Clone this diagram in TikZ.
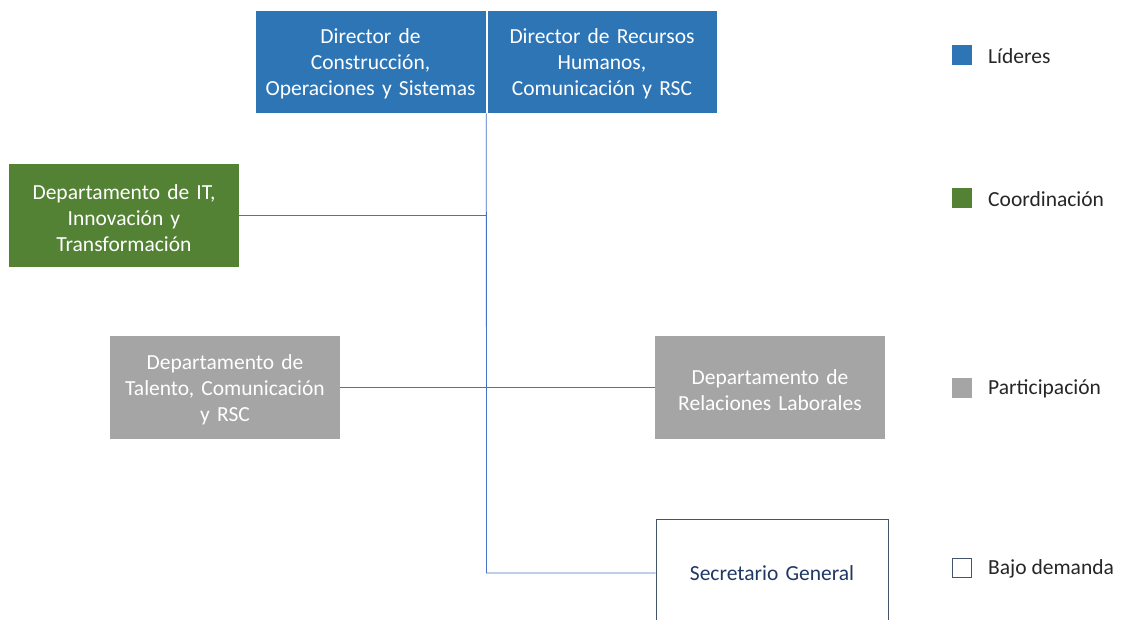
\documentclass[tikz,border=0pt]{standalone}
\usepackage{fontspec}
\setmainfont{Carlito}
\definecolor{lead}{HTML}{2E75B6}
\definecolor{coord}{HTML}{548235}
\definecolor{part}{HTML}{A5A5A5}
\definecolor{conn}{HTML}{4472C4}
\definecolor{navy}{HTML}{203864}
\definecolor{secborder}{HTML}{44546A}
\begin{document}
\begin{tikzpicture}[x=1pt,y=-1pt,
  box/.style={rectangle, inner sep=2pt, align=center, text width=#1, font=\fontsize{21.5}{26}\selectfont, execute at begin node={\rule{0pt}{20pt}}},
  lbox/.style={box=224pt, fill=lead, draw=white, line width=0.6pt, text=white, minimum width=231pt, minimum height=103pt},
  cbox/.style={box=224pt, fill=coord, text=white, minimum width=230pt, minimum height=103pt},
  pbox/.style={box=224pt, fill=part, text=white, minimum width=230pt, minimum height=103pt},
  sbox/.style={box=224pt, fill=white, draw=secborder, line width=1pt, text=navy, minimum width=232pt, minimum height=104pt},
  link/.style={draw=conn, line width=0.8pt},
  legsq/.style={rectangle, minimum size=20pt, inner sep=0pt},
  legtx/.style={anchor=west, inner sep=0pt, font=\fontsize{21.5}{26}\selectfont, text=black!85}
]
\useasboundingbox (0,0) rectangle (1121,619);
\fill[white] (0,0) rectangle (1121,619);

\node[lbox] (d1) at (370.5,61.5) {Director de\\Construcción,\\Operaciones y Sistemas};
\node[lbox, minimum width=230pt] (d2) at (602,61.5) {Director de Recursos\\Humanos,\\Comunicación y RSC};
\node[cbox] (it) at (124,215.5) {Departamento de IT,\\Innovación y\\Transformación};
\node[pbox] (tal) at (225,387.5) {Departamento de\\Talento, Comunicación\\y RSC};
\node[pbox] (rel) at (770,387.5) {Departamento de\\Relaciones Laborales};
\node[sbox] (sec) at (772,571) {Secretario General};
\coordinate (j) at (486.5,573);

\draw[link] (d1.south east) -- (j) -- (sec.west |- j);
\draw[link] (it.east) -- (it.east -| j);
\draw[link] (tal.east) -- (rel.west);

% legend
\node[legsq, fill=lead] (l1) at (962,55) {};
\node[legtx] (t1) at (988,56) {Líderes};
\node[legsq, fill=coord] (l2) at (962,198) {};
\node[legtx] (t2) at (988,199) {Coordinación};
\node[legsq, fill=part] (l3) at (962,388) {};
\node[legtx] (t3) at (988,389) {Participación};
\node[legsq, draw=secborder, line width=1pt, fill=white, minimum size=19pt] (l4) at (962,568) {};
\node[legtx] (t4) at (988,569) {Bajo demanda};
\end{tikzpicture}
\end{document}
